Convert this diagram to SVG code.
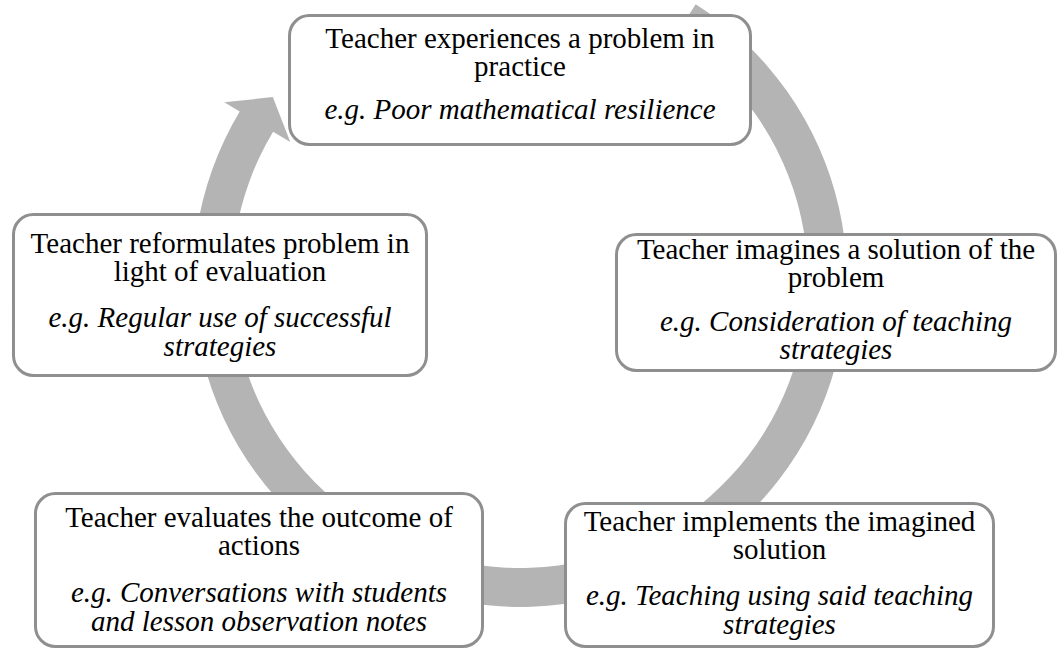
<svg xmlns="http://www.w3.org/2000/svg" width="1058" height="650" viewBox="0 0 1058 650">
  <style>
    .box { fill: #ffffff; stroke: #8f8f8f; stroke-width: 3; }
    .t { font-size: 29px; fill: #000000; text-anchor: middle; }
    .i { font-style: italic; }
    .ring { fill: #b4b4b4; stroke: none; }
  </style>
  <rect width="1058" height="650" fill="#ffffff"/>

  <!-- continuous cycle arrow: ring band with arrowhead at upper left -->
  <g id="connectors">
    <path class="ring" d="M 695.7,4.2 A 327 327 0 1 1 239.7,111.6 L 224.3,102.3 L 272.8,97.1 L 290.3,142 L 273.1,131.7 A 288 288 0 1 0 674.7,37.1 Z"/>
  </g>

  <g font-family="'Liberation Serif', 'Times New Roman', Tinos, 'DejaVu Serif', serif">
    <g id="node-experience">
      <rect class="box" x="289.5" y="15.5" width="461" height="129" rx="20"/>
      <text class="t" x="520" y="48">Teacher experiences a problem in</text>
      <text class="t" x="520" y="76">practice</text>
      <text class="t i" x="520" y="119">e.g. Poor mathematical resilience</text>
    </g>

    <g id="node-imagine">
      <rect class="box" x="616.5" y="234.5" width="439" height="136" rx="20"/>
      <text class="t" x="836" y="259">Teacher imagines a solution of the</text>
      <text class="t" x="836" y="287">problem</text>
      <text class="t i" x="836" y="331">e.g. Consideration of teaching</text>
      <text class="t i" x="836" y="359">strategies</text>
    </g>

    <g id="node-implement">
      <rect class="box" x="565.5" y="503.5" width="428" height="143" rx="20"/>
      <text class="t" x="779.5" y="531">Teacher implements the imagined</text>
      <text class="t" x="779.5" y="559">solution</text>
      <text class="t i" x="779.5" y="605">e.g. Teaching using said teaching</text>
      <text class="t i" x="779.5" y="634">strategies</text>
    </g>

    <g id="node-evaluate">
      <rect class="box" x="35.5" y="493.5" width="447" height="153" rx="20"/>
      <text class="t" x="259" y="527">Teacher evaluates the outcome of</text>
      <text class="t" x="259" y="555">actions</text>
      <text class="t i" x="259" y="602">e.g. Conversations with students</text>
      <text class="t i" x="259" y="631">and lesson observation notes</text>
    </g>

    <g id="node-reformulate">
      <rect class="box" x="13.5" y="214.5" width="413" height="161" rx="20"/>
      <text class="t" x="220" y="253">Teacher reformulates problem in</text>
      <text class="t" x="220" y="281">light of evaluation</text>
      <text class="t i" x="220" y="327">e.g. Regular use of successful</text>
      <text class="t i" x="220" y="356">strategies</text>
    </g>
  </g>
</svg>
